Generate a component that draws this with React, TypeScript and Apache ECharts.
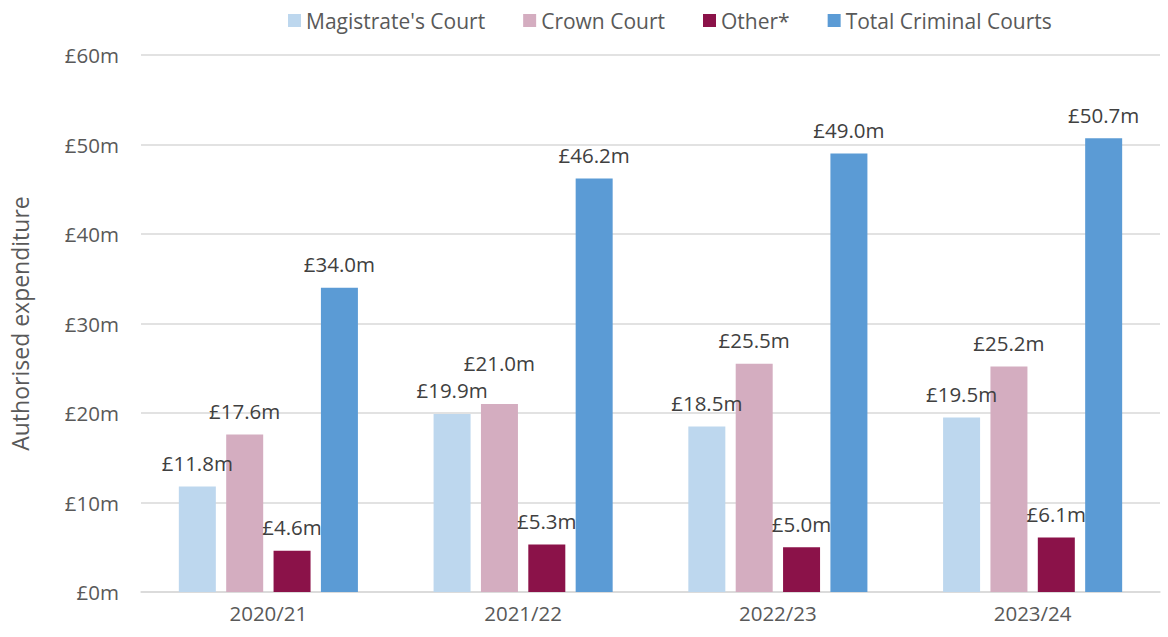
import React, { useEffect, useRef } from "react";
import * as echarts from "echarts";

const categories = ["2020/21", "2021/22", "2022/23", "2023/24"];
const magistrates = [11.8, 19.9, 18.5, 19.5];
const crown = [17.6, 21.0, 25.5, 25.2];
const other = [4.6, 5.3, 5.0, 6.1];
const total = [34.0, 46.2, 49.0, 50.7];
const seriesNames = ["Magistrate's Court", "Crown Court", "Other*", "Total Criminal Courts"];
const colors = ["#BDD7EE", "#D4ADC0", "#8B1249", "#5B9BD5"];

const FONT = "'Open Sans', 'Noto Sans', sans-serif";
const TXT = "#595959";

export default function App() {
  const ref = useRef<HTMLDivElement>(null);
  useEffect(() => {
    document.body.style.margin = "0";
    const chart = echarts.init(ref.current!, undefined, { renderer: "svg" });
    const datasets = [magistrates, crown, other, total];
    chart.setOption({
      animation: false,
      textStyle: { fontFamily: FONT },
      legend: {
        top: 5,
        left: 283,
        itemWidth: 13,
        itemHeight: 13,
        itemGap: 38,
        icon: "rect",
        textStyle: { fontSize: 21, color: TXT, fontFamily: FONT, padding: [0, 0, 0, 0] },
        data: seriesNames,
      },
      grid: { left: 140, right: 8, top: 55, bottom: 45 },
      xAxis: {
        type: "category",
        data: categories,
        axisTick: { show: false },
        axisLine: { lineStyle: { color: "#D9D9D9", width: 1.5 } },
        axisLabel: { fontSize: 20.5, color: TXT, margin: 10, fontFamily: FONT },
      },
      yAxis: {
        type: "value",
        min: 0,
        max: 60,
        interval: 10,
        name: "Authorised expenditure",
        nameLocation: "middle",
        nameGap: 110,
        nameTextStyle: { fontSize: 23, color: TXT, fontFamily: FONT },
        axisLabel: {
          fontSize: 20.5,
          color: TXT,
          margin: 22,
          fontFamily: FONT,
          formatter: (v: number) => "£" + v + "m",
        },
        splitLine: { lineStyle: { color: "#D9D9D9", width: 1.5 } },
      },
      series: datasets.map((d, i) => ({
        name: seriesNames[i],
        type: "bar",
        data: d.map((v, j) =>
          i === 1 && j === 1 ? { value: v, label: { distance: 31 } } : v
        ),
        barWidth: 37,
        barGap: "28%",
        itemStyle: { color: colors[i] },
        label: {
          show: true,
          position: "top",
          distance: 13,
          fontSize: 20.5,
          color: "#404040",
          fontFamily: FONT,
          formatter: (p: any) => "£" + Number(p.value).toFixed(1) + "m",
        },
      })),
    });
    return () => chart.dispose();
  }, []);
  return <div ref={ref} style={{ width: 1168, height: 637 }} />;
}
